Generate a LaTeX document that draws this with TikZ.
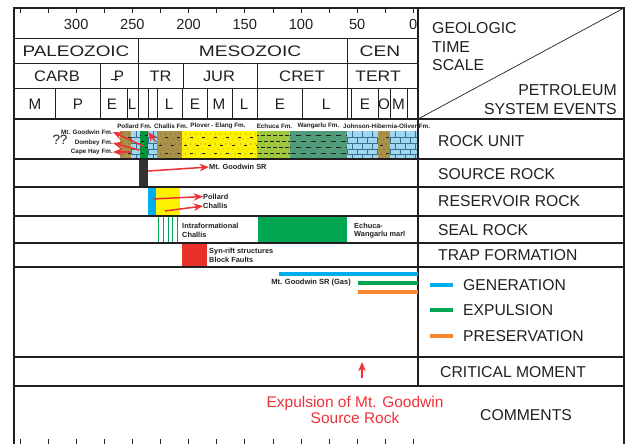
\documentclass[tikz,border=0pt]{standalone}
\usepackage{graphicx}
\usepackage{fontspec}
\setmainfont{Liberation Sans}
\usetikzlibrary{arrows.meta, positioning}
\definecolor{myline}{RGB}{35,31,32}
\definecolor{myred}{RGB}{237,50,55}
\definecolor{myblue}{RGB}{0,174,239}
\definecolor{mygreen}{RGB}{0,166,81}
\definecolor{myorange}{RGB}{247,134,46}
\definecolor{myyellow}{RGB}{255,242,0}
\definecolor{mybrown}{RGB}{168,145,72}
\definecolor{mylime}{RGB}{160,200,60}
\definecolor{myteal}{RGB}{80,155,122}
\definecolor{mylimestone}{RGB}{160,215,240}
\definecolor{mybrick}{RGB}{60,110,140}
\definecolor{mydkgreen}{RGB}{0,150,60}
\definecolor{mysrc}{RGB}{50,50,50}
\definecolor{mytrap}{RGB}{232,49,42}
\tikzset{
  frame/.style={line width=0.9pt, draw=myline},
  gridline/.style={line width=0.6pt, draw=myline},
  tick/.style={line width=0.6pt, draw=myline},
  numlbl/.style={font=\fontsize{12.5}{14}\selectfont, text=myline, inner sep=0pt},
  eplbl/.style={font=\fontsize{13}{15}\selectfont, text=myline, inner sep=0pt},
  eralbl/.style={font=\fontsize{13}{15}\selectfont, text=myline, inner sep=0pt},
  perlbl/.style={font=\fontsize{13}{15}\selectfont, text=myline, inner sep=0pt},
  rowlbl/.style={font=\fontsize{13.4}{15}\selectfont, text=myline, anchor=west, inner sep=0pt},
  fmlbl/.style={font=\fontsize{5.4}{6}\selectfont\bfseries, text=myline, inner sep=0pt},
  notelbl/.style={font=\fontsize{6.3}{7.2}\selectfont\bfseries, text=myline,
    align=left, anchor=west, inner sep=0pt},
  redarrow/.style={-{Stealth[length=8pt,width=6.5pt]}, myred, line width=1.3pt},
  evbar/.style={line width=3.4pt},
  brickline/.style={mybrick, line width=0.35pt},
  shaledash/.style={myline, line width=0.8pt}
}
\newcommand{\wide}[2]{\scalebox{#1}[1]{#2}}
% rock fills, x range of one column in the rock unit row
\newcommand{\brickfill}[2]{%
  \fill[mylimestone] (#1,131) rectangle (#2,159);
  \begin{scope}
    \clip (#1,131) rectangle (#2,159);
    \foreach \yy in {137,143,149,154} \draw[brickline] (#1,\yy) -- (#2,\yy);
    \pgfmathtruncatemacro\nn{(#2-#1)/10+1}
    \foreach \k in {0,...,\nn} \foreach \yy [count=\j] in {131,137,143,149,154}
      \draw[brickline] ({#1+\k*10-mod(\j,2)*5},\yy) -- ++(0,6);
  \end{scope}}
\newcommand{\sandfill}[3]{%
  \fill[#3] (#1,131) rectangle (#2,159);
  \begin{scope}
    \clip (#1,131) rectangle (#2,159);
    \pgfmathtruncatemacro\nn{(#2-#1)/5}
    \foreach \k in {0,...,\nn} \foreach \yy [count=\j] in {134,139,...,158}
      \fill[myline] ({#1+1+\k*5+mod(\j,2)*2.5},\yy) circle (0.45);
    \pgfmathtruncatemacro\mm{(#2-#1)/12}
    \foreach \k in {0,...,\mm} \foreach \yy [count=\j] in {137,145,153}
      \draw[shaledash] ({#1+2+\k*12+mod(\j,2)*6},\yy) -- ++(3,0);
  \end{scope}}
\newcommand{\shalefill}[5]{% x1, x2, colour, dash, gap
  \fill[#3] (#1,131) rectangle (#2,159);
  \begin{scope}
    \clip (#1,131) rectangle (#2,159);
    \pgfmathtruncatemacro\nn{(#2-#1)/(#4+#5)+1}
    \foreach \k in {0,...,\nn} \foreach \yy [count=\j] in {135,141,147,153}
      \draw[shaledash] ({#1+1+\k*(#4+#5)-mod(\j,2)*(#4+#5)/2},\yy) -- ++(#4,0);
  \end{scope}}

\begin{document}
\begin{tikzpicture}[x=0.03cm, y=-0.03cm]
  \useasboundingbox (0,0) rectangle (625,444);

  % Rock unit columns
  \sandfill{120}{131}{mybrown}
  \brickfill{131}{140}
  \shalefill{140}{148}{mydkgreen}{3}{4}
  \brickfill{148}{157}
  \sandfill{157}{182}{mybrown}
  \sandfill{182}{257}{myyellow}
  \shalefill{257}{290}{mylime}{4}{2}
  \shalefill{290}{347}{myteal}{5}{5}
  \brickfill{347}{378}
  \sandfill{378}{390}{mybrown}
  \brickfill{390}{418}

  % Event blocks
  \fill[mysrc] (139,159) rectangle (148,187);
  \fill[myblue] (148,187) rectangle (156,216);
  \fill[myyellow] (156,187) rectangle (180,216);
  \foreach \xx in {158,163,168,172,177}
    \draw[mygreen, line width=0.6pt] (\xx,216) -- (\xx,243);
  \fill[mygreen] (258,216) rectangle (347,243);
  \fill[mytrap] (182,243) rectangle (207,267);

  % Frame and time scale grid
  \draw[frame] (14,444) -- (14,8) -- (624,8) -- (624,444);
  \draw[frame] (418,8) -- (418,386);
  \foreach \yy in {38,63,88} \draw[gridline] (14,\yy) -- (418,\yy);
  \foreach \yy in {119,159,187,216,243,267,357,386} \draw[frame] (14,\yy) -- (624,\yy);
  \draw[gridline] (418,119) -- (624,8);
  \foreach \xx in {138,347} \draw[gridline] (\xx,38) -- (\xx,63);
  \foreach \xx in {100,138,183,257,347} \draw[gridline] (\xx,63) -- (\xx,88);
  \foreach \xx in {55,100,127,138,148,157,182,207,232,257,302,347,351,378,390,407}
    \draw[gridline] (\xx,88) -- (\xx,119);
  \foreach \k in {0,...,14} {
    \draw[tick] ({20+\k*28.1},8) -- ++(0,5);
    \draw[tick] ({20+\k*28.1},439) -- ++(0,5);
  }

  % Time scale labels
  \foreach \ma/\xx in {300/76.2,250/132.4,200/188.6,150/244.8,100/301,50/357.2,0/413.3}
    \node[numlbl] (ma\ma) at (\xx,24) {\ma};
  \node[eralbl] (paleo) at (76,51) {\wide{1.24}{PALEOZOIC}};
  \node[eralbl] (meso) at (250,51) {\wide{1.26}{MESOZOIC}};
  \node[eralbl] (ceno) at (380,51) {\wide{1.26}{CEN}};
  \node[perlbl] (carb) at (57,76) {\wide{1.08}{CARB}};
  \node[perlbl] (perm) at (119,76)
    {\makebox[0pt][l]{\hspace{-0.18em}\rule[0.1em]{0.42em}{0.07em}}P};
  \node[perlbl] (tri) at (160.5,76) {\wide{1.08}{TR}};
  \node[perlbl] (jur) at (219,76) {\wide{1.08}{JUR}};
  \node[perlbl] (cret) at (302,76) {\wide{1.1}{CRET}};
  \node[perlbl] (tert) at (378,76) {\wide{1.15}{TERT}};
  \foreach \lbl/\xx [count=\i] in {M/35,P/78,E/112,L/132,L/169,E/195,M/219,
      L/244,E/280,L/326,E/365,O/384,M/398.5}
    \node[eplbl] (ep\i) at (\xx,104) {\lbl};

  % Right column labels
  \node[rowlbl, anchor=north west, align=left,
    font=\fontsize{13.5}{16}\selectfont] (geo) at (432,22) {GEOLOGIC\\TIME\\SCALE};
  \node[rowlbl, anchor=north east, align=right,
    font=\fontsize{13.5}{16}\selectfont] (pse) at (617,84) {PETROLEUM\\SYSTEM EVENTS};
  \node[rowlbl] (rock) at (438,141) {ROCK UNIT};
  \node[rowlbl] (src) at (438,174) {SOURCE ROCK};
  \node[rowlbl] (res) at (438,201) {RESERVOIR ROCK};
  \node[rowlbl] (seal) at (438,230) {SEAL ROCK};
  \node[rowlbl] (trap) at (438,255) {TRAP FORMATION};
  \node[rowlbl] (crit) at (440,372) {CRITICAL MOMENT};
  \node[rowlbl] (comm) at (480,415) {COMMENTS};

  % Legend
  \foreach \col/\lbl/\yy in {myblue/GENERATION/285,mygreen/EXPULSION/310,myorange/PRESERVATION/336} {
    \coordinate (k\lbl) at (430,\yy);
    \draw[evbar, \col] (k\lbl) -- ++(23,0);
    \node[rowlbl] (l\lbl) at (463,\yy) {\lbl};
  }

  % Rock unit labels
  \node[fmlbl] (pollard) at (134.5,126) {Pollard Fm.};
  \node[fmlbl] (challis) at (171,126) {Challis Fm.};
  \node[fmlbl] (plover) at (218,126) {Plover - Elang Fm.};
  \node[fmlbl] (echuca) at (274.5,126) {Echuca Fm.};
  \node[fmlbl] (wang) at (318.5,126) {Wangarlu Fm.};
  \node[fmlbl, anchor=west] (jho) at (343,126) {Johnson-Hibernia-Oliver Fm.};
  \node[fmlbl, anchor=east] (goodwin) at (113,132) {Mt. Goodwin Fm.};
  \node[fmlbl, anchor=east] (dombey) at (113,143) {Dombey Fm.};
  \node[fmlbl, anchor=east] (capehay) at (113,152) {Cape Hay Fm.};
  \node[font=\fontsize{11.5}{12}\selectfont, text=myline, inner sep=0pt] (qq) at (60,140) {??};
  \coordinate (gA) at (143,146);
  \coordinate (dA) at (139,150);
  \coordinate (cA) at (130,152);
  \coordinate (pA) at (156,142);
  \draw[redarrow] (gA) -- (goodwin.east);
  \draw[redarrow] (dA) -- (dombey.east);
  \draw[redarrow] (cA) -- (capehay.east);
  \draw[redarrow] (pA) -- (148,132);

  % Source, reservoir, seal and trap notes
  \node[notelbl] (srcnote) at (209,167) {Mt. Goodwin SR};
  \coordinate (srcbar) at (148,171);
  \draw[redarrow] (srcbar) -- (srcnote.west);
  \node[notelbl] (polres) at (203,196.5) {Pollard};
  \node[notelbl] (chares) at (203,206) {Challis};
  \coordinate (polbar) at (153,199);
  \coordinate (chabar) at (165,211);
  \draw[redarrow] (polbar) -- (polres.west);
  \draw[redarrow] (chabar) -- (chares.west);
  \node[notelbl] (intra) at (182,230.5) {Intraformational\\Challis};
  \node[notelbl] (marl) at (354,230.5) {Echuca-\\Wangarlu marl};
  \node[notelbl] (synrift) at (209,255.5) {Syn-rift structures\\Block Faults};

  % Petroleum system events
  \coordinate (genA) at (279,274);
  \coordinate (expA) at (358,283);
  \coordinate (preA) at (358,292);
  \draw[evbar, myblue] (genA) -- (418,274);
  \draw[evbar, mygreen] (expA) -- (418,283);
  \draw[evbar, myorange] (preA) -- (418,292);
  \node[notelbl, anchor=east, font=\fontsize{6.4}{7}\selectfont\bfseries] (gas) at (351,283)
    {Mt. Goodwin SR (Gas)};

  % Critical moment and comment
  \coordinate (cmA) at (362,378);
  \coordinate (cmB) at (362,362);
  \draw[redarrow, line width=1pt] (cmA) -- (cmB);
  \node[font=\fontsize{13.2}{14}\selectfont, text=myred, align=center, inner sep=0pt]
    (expnote) at (355,410) {Expulsion of Mt. Goodwin\\Source Rock};
\end{tikzpicture}
\end{document}
